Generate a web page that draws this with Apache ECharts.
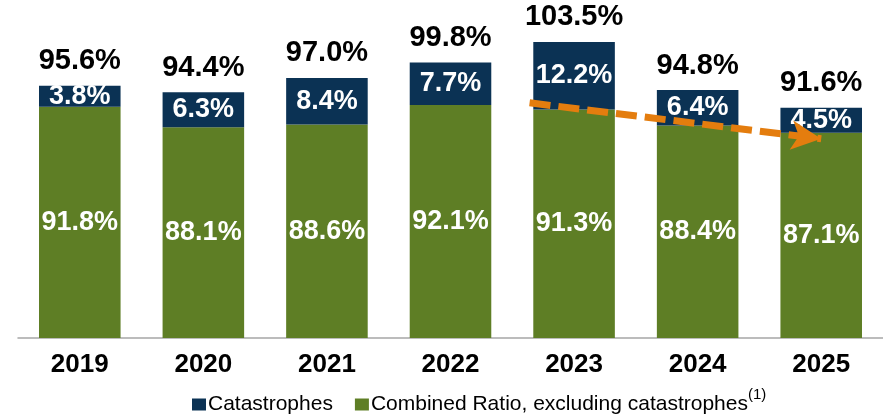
<!DOCTYPE html>
<html>
<head>
<meta charset="utf-8">
<script src="https://cdn.jsdelivr.net/npm/echarts@6/dist/echarts.min.js"></script>
<style>
  html, body { margin: 0; padding: 0; background: #fff; }
  #chart { width: 883px; height: 417px; }
</style>
</head>
<body>
<div id="chart"></div>
<script>
// --- données ---
const years = ['2019', '2020', '2021', '2022', '2023', '2024', '2025'];
const exCat = [91.8, 88.1, 88.6, 92.1, 91.3, 88.4, 87.1];
const catastrophes = [3.8, 6.3, 8.4, 7.7, 12.2, 6.4, 4.5];
const totals = [95.6, 94.4, 97.0, 99.8, 103.5, 94.8, 91.6];
// flèche de tendance (x = position sur l'axe caché 0..7, y = %)
const trendStart = [4.14, 92.5];
const trendEnd = [6.5, 86.0];

const FONT = '"Liberation Sans", Arial, sans-serif';
const NAVY = '#0B3254';
const GREEN = '#5E7E25';
const ORANGE = '#E47D0E';

const fmt = v => v.toFixed(1) + '%';

const chart = echarts.init(document.getElementById('chart'));

const option = {
    animation: false,
    textStyle: { fontFamily: FONT },
    grid: { left: 18, right: 0, top: 6, bottom: 79 },
    legend: {
        data: ['Catastrophes', 'Combined Ratio, excluding catastrophes'],
        left: 192,
        top: 387,
        padding: 0,
        itemWidth: 14,
        itemHeight: 12,
        itemGap: 22,
        icon: 'rect',
        textStyle: {
            fontFamily: FONT,
            fontSize: 21,
            color: '#000',
            padding: [0, 0, 0, -3],
            rich: {
                sup: { fontSize: 15, color: '#000', fontFamily: FONT, padding: [0, 0, 20, 0] }
            }
        },
        formatter: name => name.startsWith('Combined') ? name + '{sup|(1)}' : name
    },
    xAxis: [{
        type: 'category',
        data: years,
        axisLine: { lineStyle: { color: '#A6A6A6', width: 1.5 } },
        axisTick: { length: 6, lineStyle: { color: '#A6A6A6', width: 1.5 } },
        axisLabel: { color: '#000', fontSize: 26, fontWeight: 'bold', margin: 14, fontFamily: FONT }
    }, {
        // axe caché pour positionner la flèche
        type: 'value', min: 0, max: 7, show: false
    }],
    yAxis: {
        type: 'value', min: 50, max: 110, show: false,
        splitLine: { show: false }
    },
    series: [{
        name: 'Combined Ratio, excluding catastrophes',
        type: 'bar',
        stack: 'cr',
        barWidth: '66%',
        data: exCat,
        itemStyle: { color: GREEN },
        label: {
            show: true, position: 'inside', color: '#fff',
            fontSize: 27, fontWeight: 'bold', fontFamily: FONT,
            formatter: p => fmt(p.value)
        }
    }, {
        name: 'Catastrophes',
        type: 'bar',
        stack: 'cr',
        data: catastrophes,
        itemStyle: { color: NAVY },
        label: {
            show: true, position: 'inside', color: '#fff',
            fontSize: 27, fontWeight: 'bold', fontFamily: FONT,
            formatter: p => fmt(p.value)
        }
    }, {
        name: 'Total',
        type: 'bar',
        stack: 'cr',
        data: totals.map(() => 0),
        itemStyle: { color: 'transparent' },
        label: {
            show: true, position: 'top', distance: 10, color: '#000',
            fontSize: 29, fontWeight: 'bold', fontFamily: FONT,
            formatter: p => fmt(totals[p.dataIndex])
        }
    }, {
        name: 'trend',
        type: 'line',
        xAxisIndex: 1,
        data: [],
        silent: true,
        markLine: {
            silent: true,
            symbol: ['none', 'arrow'],
            symbolSize: [22, 30],
            label: { show: false },
            lineStyle: { color: ORANGE, width: 7, type: [21, 8], opacity: 1 },
            data: [[{ coord: trendStart }, { coord: trendEnd }]]
        }
    }]
};

chart.setOption(option);
</script>
</body>
</html>
